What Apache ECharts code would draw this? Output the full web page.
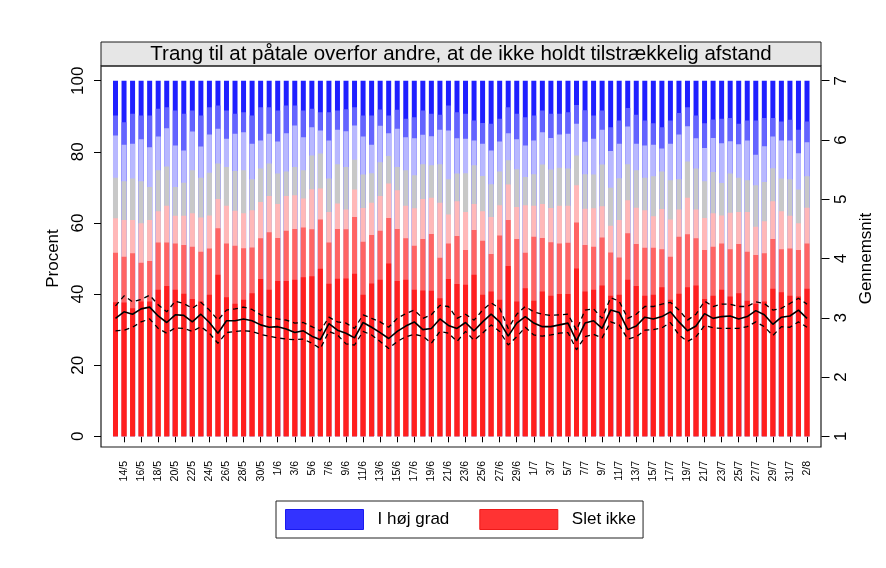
<!DOCTYPE html>
<html>
<head>
<meta charset="utf-8">
<script src="https://cdn.jsdelivr.net/npm/echarts@6/dist/echarts.min.js"></script>
<style>
html,body{margin:0;padding:0;background:#fff;}
#chart{width:886px;height:568px;}
</style>
</head>
<body>
<div id="chart"></div>
<script>
const dates = ['13/5','14/5','15/5','16/5','17/5','18/5','19/5','20/5','21/5','22/5','23/5','24/5','25/5','26/5','27/5','28/5','29/5','30/5','31/5',
'1/6','2/6','3/6','4/6','5/6','6/6','7/6','8/6','9/6','10/6','11/6','12/6','13/6','14/6','15/6','16/6','17/6','18/6','19/6','20/6','21/6','22/6','23/6','24/6','25/6','26/6','27/6','28/6','29/6','30/6',
'1/7','2/7','3/7','4/7','5/7','6/7','7/7','8/7','9/7','10/7','11/7','12/7','13/7','14/7','15/7','16/7','17/7','18/7','19/7','20/7','21/7','22/7','23/7','24/7','25/7','26/7','27/7','28/7','29/7','30/7','31/7',
'1/8','2/8'];

// cumulative percent at the top of each answer level (level 7 always reaches 100)
const cumLevel7 = [100,100,100,100,100,100,100,100,100,100,100,100,100,100,100,100,100,100,100,100,100,100,100,100,100,100,100,100,100,100,100,100,100,100,100,100,100,100,100,100,100,100,100,100,100,100,100,100,100,100,100,100,100,100,100,100,100,100,100,100,100,100,100,100,100,100,100,100,100,100,100,100,100,100,100,100,100,100,100,100,100,100];
const cumLevel6 = [90.2,88.3,90.7,90.2,90.2,92.1,92.5,91.6,90.7,91.6,90.2,92.5,93.0,91.6,90.7,91.1,90.2,92.5,92.5,91.6,93.0,93.0,91.6,92.1,91.1,91.1,91.6,92.0,
92.5,90.2,90.2,91.9,90.2,91.8,89.3,89.7,91.6,90.7,90.4,93.0,91.1,90.7,88.8,88.1,87.9,89.3,92.5,90.7,89.7,90.2,91.6,90.7,90.7,91.1,93.2,91.7,
90.2,91.6,86.9,88.8,92.3,90.4,88.8,88.0,86.9,88.8,90.9,92.5,90.2,88.0,89.1,89.3,89.5,87.9,88.8,88.8,89.5,89.5,88.5,89.0,86.2,88.5];
const cumLevel5 = [84.6,82.0,82.3,83.5,81.3,84.3,86.6,81.8,80.4,85.7,81.5,84.9,86.5,83.7,85.1,85.5,82.3,83.2,85.1,82.9,85.2,87.4,84.1,86.9,86.0,83.2,86.2,85.8,
87.4,84.3,82.0,87.3,85.2,86.5,84.1,83.8,84.8,84.4,86.2,86.0,83.8,83.7,83.2,82.3,80.4,82.9,85.2,83.5,81.8,83.2,85.5,83.9,84.9,85.1,87.9,82.8,
83.7,86.2,80.2,82.3,87.1,82.3,81.8,82.0,80.9,82.3,84.9,87.2,83.8,81.1,83.9,82.4,83.0,82.1,83.2,79.2,81.6,84.3,83.2,83.2,79.6,82.7];
const cumLevel4 = [72.7,71.7,72.5,71.7,70.1,74.8,75.9,70.1,71.3,74.8,72.7,74.1,76.7,75.7,74.6,74.8,72.3,75.3,76.7,73.9,74.5,75.7,74.8,79.0,79.5,72.5,76.5,75.7,
77.8,73.6,74.0,77.1,78.8,75.7,74.8,73.4,76.5,76.2,76.5,72.3,73.9,74.0,76.2,73.2,70.9,74.5,77.6,75.1,72.9,73.7,76.4,75.0,75.5,75.3,79.0,73.7,
73.6,76.4,69.9,72.6,76.5,74.8,72.7,73.1,74.5,72.0,72.3,77.3,75.3,71.7,74.3,71.2,73.9,72.7,72.0,70.6,71.5,75.4,72.5,72.3,69.4,73.1];
const cumLevel3 = [61.3,60.8,60.8,59.9,60.8,63.3,64.8,62.0,62.0,62.7,61.5,62.1,66.7,64.8,63.4,62.7,63.6,65.9,67.6,65.3,67.6,67.8,66.9,69.5,69.7,63.1,65.5,63.8,
69.4,64.2,65.7,67.6,71.1,69.2,64.8,64.1,66.7,67.1,65.7,62.4,66.1,63.1,65.3,63.3,61.7,65.0,70.8,64.5,65.0,64.8,65.3,64.2,64.8,64.8,70.6,64.0,
64.1,64.7,59.2,60.8,66.4,64.3,63.6,61.9,63.9,61.0,63.8,67.1,63.8,61.4,62.7,62.1,62.9,63.1,63.1,58.9,60.5,66.1,63.3,62.0,59.9,64.3];
const cumLevel2 = [51.6,50.5,51.5,48.8,49.3,54.5,54.5,54.2,53.8,53.3,51.9,52.8,58.5,54.2,53.6,52.9,53.1,55.7,57.4,55.8,57.8,58.3,58.7,58.2,61.0,54.5,58.3,58.2,
61.7,54.7,56.6,57.8,61.4,58.3,55.7,53.6,55.5,56.9,50.2,54.2,56.3,52.4,58.0,55.0,51.3,56.5,60.8,55.5,51.6,56.1,55.8,54.6,54.2,54.4,60.1,53.8,
53.3,55.9,51.7,50.3,57.1,54.1,53.0,53.0,52.6,50.5,56.1,56.8,55.7,52.4,53.3,54.2,52.6,54.1,51.9,51.0,51.5,55.5,52.6,52.8,52.4,54.2];
const cumLevel1 = [37.7,37.6,36.0,37.9,37.9,41.2,42.3,41.2,40.1,38.6,37.9,39.8,45.4,39.1,37.3,38.4,40.2,44.2,41.2,43.7,43.7,44.0,44.7,45.0,47.1,42.9,44.3,44.4,
45.7,39.8,43.0,44.0,48.6,43.7,44.0,41.2,41.0,40.9,38.8,44.2,42.8,42.6,45.4,39.8,40.7,38.4,47.9,37.9,41.6,38.1,40.7,39.5,40.0,40.0,47.2,40.7,
41.2,42.4,39.5,39.8,44.0,42.3,39.5,39.8,41.9,38.4,40.1,41.9,42.4,38.6,39.5,41.2,39.3,40.2,38.1,37.3,37.9,41.5,40.5,39.5,39.3,41.5];

// mean (Gennemsnit, 1-7 scale) and its confidence band
const meanVals = [2.99,3.10,3.06,3.15,3.18,3.03,2.92,3.05,3.04,2.93,3.06,2.92,2.74,2.95,2.95,2.98,2.95,2.88,2.84,2.85,2.81,2.75,2.78,2.69,2.63,2.90,2.79,2.74,
2.66,2.92,2.84,2.75,2.65,2.77,2.86,2.93,2.80,2.82,2.98,2.87,2.82,2.92,2.78,2.93,3.06,2.93,2.69,2.91,3.02,2.91,2.85,2.85,2.88,2.91,2.61,2.91,
2.95,2.82,3.13,3.09,2.80,2.86,3.01,2.98,3.02,3.10,2.93,2.78,2.86,3.07,2.99,3.02,3.03,2.98,3.02,3.12,3.05,2.89,3.01,3.03,3.13,2.99];
const upperVals = [3.20,3.37,3.27,3.31,3.38,3.22,3.10,3.28,3.24,3.16,3.26,3.13,2.96,3.13,3.15,3.18,3.14,3.05,3.01,2.98,2.96,2.91,2.92,2.85,2.78,3.01,2.93,2.91,
2.82,3.05,2.99,2.93,2.84,2.99,3.07,3.13,2.99,3.05,3.21,3.19,2.99,3.06,2.96,3.13,3.25,3.16,2.82,3.06,3.19,3.10,3.06,3.04,3.05,3.06,2.79,3.13,
3.15,2.99,3.34,3.28,2.99,3.06,3.19,3.19,3.23,3.26,3.13,2.96,3.06,3.28,3.19,3.23,3.23,3.19,3.19,3.27,3.24,3.13,3.16,3.24,3.33,3.23];
const lowerVals = [2.78,2.79,2.84,2.93,2.98,2.82,2.74,2.83,2.82,2.77,2.85,2.74,2.57,2.75,2.77,2.78,2.77,2.72,2.69,2.66,2.64,2.63,2.64,2.57,2.48,2.77,2.71,2.56,
2.54,2.77,2.71,2.60,2.48,2.60,2.68,2.72,2.69,2.57,2.77,2.74,2.60,2.77,2.62,2.74,2.88,2.77,2.54,2.68,2.84,2.71,2.69,2.71,2.74,2.75,2.46,2.68,
2.72,2.66,2.93,2.88,2.64,2.68,2.79,2.80,2.83,2.92,2.71,2.60,2.68,2.87,2.83,2.82,2.82,2.82,2.85,2.93,2.85,2.70,2.85,2.84,2.93,2.84];

const leftTicks = [0, 20, 40, 60, 80, 100];
const rightTicks = [1, 2, 3, 4, 5, 6, 7];
const titleText = 'Trang til at påtale overfor andre, at de ikke holdt tilstrækkelig afstand';

const FONT = '"Liberation Sans", Arial, Helvetica, sans-serif';
const levelColors = ['#1f1fff', '#6464ff', '#b8b8ff', '#c8c8c8', '#ffb8b8', '#ff6464', '#ff1f1f'];
const levelNames = ['I høj grad', 'lvl6', 'lvl5', 'lvl4', 'lvl3', 'lvl2', 'Slet ikke'];
const levelData = [cumLevel7, cumLevel6, cumLevel5, cumLevel4, cumLevel3, cumLevel2, cumLevel1];

const barSeries = levelData.map((d, i) => ({
  name: levelNames[i],
  type: 'bar',
  xAxisIndex: 0,
  yAxisIndex: 0,
  data: d,
  barWidth: 5,
  barGap: '-100%',
  itemStyle: { color: levelColors[i] },
  z: 2 + i * 0.01,
  silent: true
}));

const lineBase = { type: 'line', xAxisIndex: 0, yAxisIndex: 1, showSymbol: false, symbol: 'none', z: 10, silent: true };

const chart = echarts.init(document.getElementById('chart'), null, { renderer: 'canvas' });
chart.setOption({
  animation: false,
  backgroundColor: '#ffffff',
  textStyle: { fontFamily: FONT },
  graphic: [
    { type: 'rect', shape: { x: 101, y: 42, width: 720, height: 24 }, style: { fill: '#e6e6e6', stroke: '#1a1a1a', lineWidth: 1 }, z: 0 },
    { type: 'text', x: 461, y: 54.5, style: { text: titleText, fill: '#000', fontSize: 20.5, fontFamily: FONT, align: 'center', verticalAlign: 'middle' }, z: 1 },
    { type: 'rect', shape: { x: 101, y: 66, width: 720, height: 381 }, style: { fill: 'none', stroke: '#1a1a1a', lineWidth: 1.2 }, z: 0 }
  ],
  legend: {
    left: 276, top: 501,
    padding: [8, 7, 8, 9],
    borderColor: '#222', borderWidth: 1,
    itemWidth: 78, itemHeight: 20, itemGap: 30,
    icon: 'rect',
    selectedMode: false,
    textStyle: { fontSize: 17, color: '#000', fontFamily: FONT, padding: [0, 0, 0, 9] },
    data: [
      { name: 'I høj grad', itemStyle: { color: '#3333ff', borderColor: '#1a1aee', borderWidth: 1 } },
      { name: 'Slet ikke', itemStyle: { color: '#ff3333', borderColor: '#ee1a1a', borderWidth: 1 } }
    ]
  },
  grid: { left: 111.23, right: 74.73, top: 80.7, bottom: 131.7 },
  xAxis: {
    type: 'category',
    data: dates,
    boundaryGap: true,
    offset: 10.7,
    axisLine: { show: false },
    axisTick: { show: true, length: 6, alignWithLabel: true, interval: (idx) => idx % 2 === 1, lineStyle: { color: '#000' } },
    axisLabel: { interval: (idx) => idx % 2 === 1, rotate: 90, fontSize: 10.5, color: '#000', margin: 14, fontFamily: FONT },
    splitLine: { show: false }
  },
  yAxis: [
    {
      type: 'value', position: 'left', min: 0, max: 100, interval: 20, offset: 10.23,
      name: 'Procent', nameLocation: 'middle', nameGap: 33, nameRotate: 90,
      nameTextStyle: { fontSize: 17, color: '#000', fontFamily: FONT },
      axisLine: { show: false },
      axisTick: { show: true, length: 7, lineStyle: { color: '#000' } },
      axisLabel: { rotate: 90, fontSize: 17, color: '#000', margin: 14, fontFamily: FONT, formatter: (v) => leftTicks.includes(v) ? String(v) : '' },
      splitLine: { show: false }
    },
    {
      type: 'value', position: 'right', min: 1, max: 7, interval: 1, offset: 10.23,
      name: 'Gennemsnit', nameLocation: 'middle', nameGap: 31, nameRotate: 90,
      nameTextStyle: { fontSize: 17, color: '#000', fontFamily: FONT },
      axisLine: { show: false },
      axisTick: { show: true, length: 8, lineStyle: { color: '#000' } },
      axisLabel: { rotate: 90, fontSize: 17, color: '#000', margin: 11, fontFamily: FONT, formatter: (v) => rightTicks.includes(v) ? String(v) : '' },
      splitLine: { show: false }
    }
  ],
  series: barSeries.concat([
    Object.assign({}, lineBase, { name: 'Gennemsnit', data: meanVals, lineStyle: { color: '#000', width: 1.6, type: 'solid' } }),
    Object.assign({}, lineBase, { name: 'Øvre', data: upperVals, lineStyle: { color: '#000', width: 1.3, type: [5, 4] } }),
    Object.assign({}, lineBase, { name: 'Nedre', data: lowerVals, lineStyle: { color: '#000', width: 1.3, type: [5, 4] } })
  ])
});
</script>
</body>
</html>
